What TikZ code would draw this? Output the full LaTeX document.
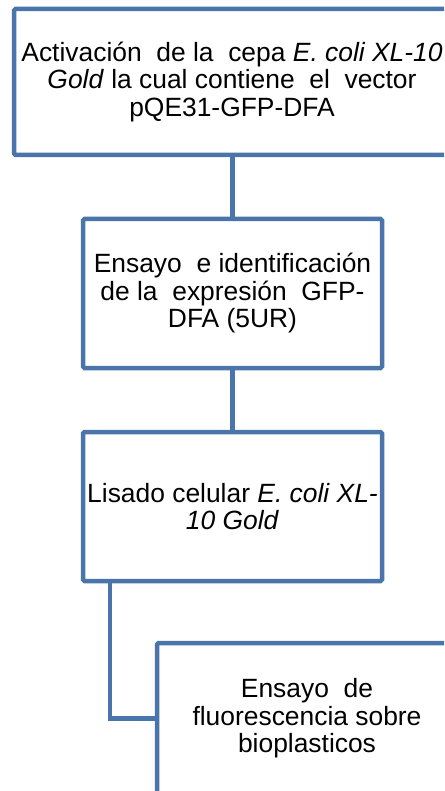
\documentclass[tikz,border=0pt]{standalone}
\usepackage{fontspec}
\setmainfont{Liberation Sans}
\usepackage{tikz}
\usetikzlibrary{positioning}

\definecolor{boxblue}{RGB}{74,117,170}

\tikzset{
  stagebox/.style={draw=boxblue, line width=4.5pt, rounded corners=1.5pt, fill=white,
    align=center, inner sep=0pt, font=\fontsize{26.4}{27.5}\selectfont},
  joinline/.style={draw=boxblue, line width=4.5pt}
}

\begin{document}
\begin{tikzpicture}[x=1pt,y=1pt,yscale=-1,xscale=1]
%set diagram at 444 x 791 and cut what runs outside
\clip (0,0) rectangle (444,791);

%Shape: Rectangle [activacion]
\node[stagebox, minimum width=436pt, minimum height=146pt] (activ) at (232,82)
  {Activación\ \ de la\ \ cepa \textit{E. coli XL-10}\\
   \textit{Gold} la cual contiene\ \ el\ \ vector\\
   pQE31-GFP-DFA};
%Shape: Rectangle [ensayo]
\node[stagebox, minimum width=299pt, minimum height=149pt] (ensayo) at (232.5,293.5)
  {Ensayo\ \ e identificación\\
   de la\ \ expresión\ \ GFP-\\
   DFA (5UR)};
%Shape: Rectangle [lisado]
\node[stagebox, minimum width=299pt, minimum height=149pt] (lisado) at (232.5,506.5)
  {Lisado celular \textit{E. coli XL-}\\
   \textit{10 Gold}};
%Shape: Rectangle [fluor]
\node[stagebox, minimum width=300pt, minimum height=151pt] (fluor) at (307,718.5)
  {Ensayo\ \ de\\
   fluorescencia sobre\\
   bioplasticos};

% Connectors
\draw[joinline] (activ.south -| ensayo.north) -- (ensayo.north);
\draw[joinline] (ensayo.south) -- (lisado.north);
\draw[joinline] ([xshift=29pt]lisado.south west) |- (fluor.west);

\end{tikzpicture}
\end{document}
